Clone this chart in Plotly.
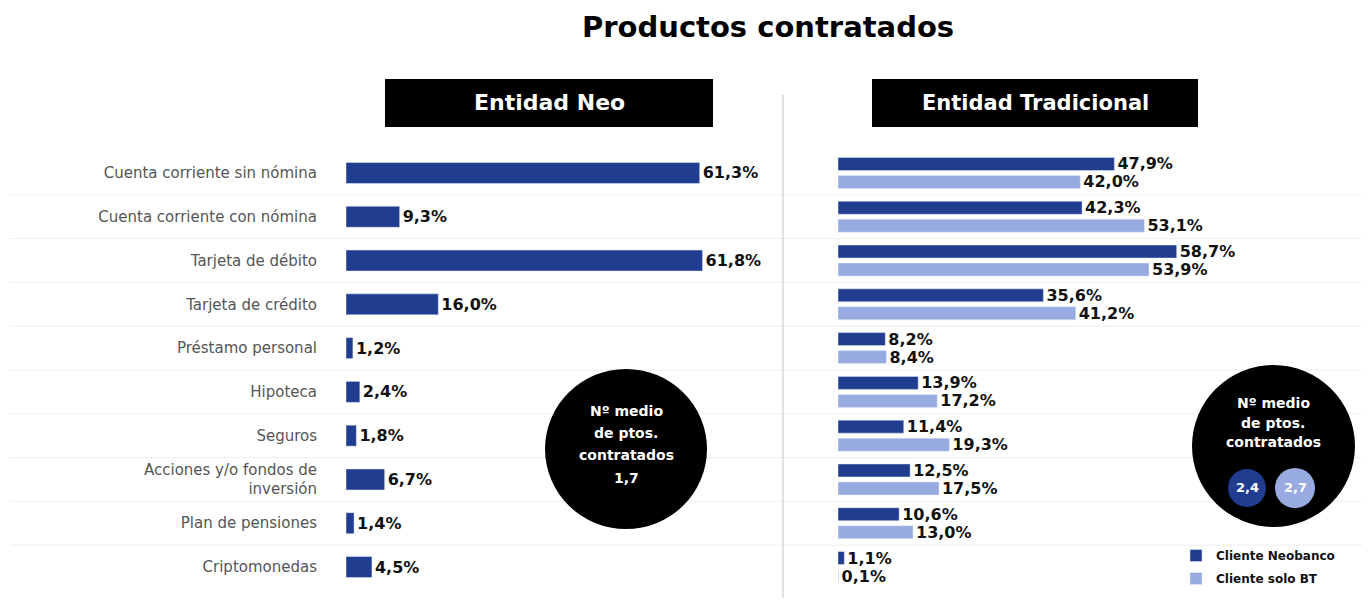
import plotly.graph_objects as go

categories = [
    "Cuenta corriente sin nómina",
    "Cuenta corriente con nómina",
    "Tarjeta de débito",
    "Tarjeta de crédito",
    "Préstamo personal",
    "Hipoteca",
    "Seguros",
    "Acciones y/o fondos de<br>inversión",
    "Plan de pensiones",
    "Criptomonedas",
]
neo_values = [61.3, 9.3, 61.8, 16.0, 1.2, 2.4, 1.8, 6.7, 1.4, 4.5]
trad_neobanco = [47.9, 42.3, 58.7, 35.6, 8.2, 13.9, 11.4, 12.5, 10.6, 1.1]
trad_solo_bt = [42.0, 53.1, 53.9, 41.2, 8.4, 17.2, 19.3, 17.5, 13.0, 0.1]
series_names = ["Cliente Neobanco", "Cliente solo BT"]
panel_titles = ["Entidad Neo", "Entidad Tradicional"]
circle_lines = ["Nº medio", "de ptos.", "contratados"]
avg_neo = "1,7"
avg_trad = ["2,4", "2,7"]

W, H = 1368, 601
DARK = "#213d8f"
LIGHT = "#97abe1"
BOLD = "DejaVu Sans"
LIGHTFONT = "DejaVu Sans"


def fmt(v):
    return f"{v:.1f}".replace(".", ",") + "%"


def px(x):
    return x / W


def py(y):
    return 1 - y / H


label_font = dict(family=BOLD, size=16, color="#111111", weight="bold")

fig = go.Figure()

fig.add_trace(go.Bar(
    y=categories, x=neo_values, orientation="h",
    marker_color=DARK, width=0.48,
    text=[fmt(v) for v in neo_values], textposition="outside",
    constraintext="none", cliponaxis=False, textfont=label_font,
    xaxis="x", yaxis="y", showlegend=False, hoverinfo="skip",
))
fig.add_trace(go.Bar(
    y=categories, x=trad_neobanco, orientation="h", name=series_names[0],
    legendgroup="a",
    marker_color=DARK, width=0.297, offset=-0.354,
    text=[fmt(v) for v in trad_neobanco], textposition="outside",
    constraintext="none", cliponaxis=False, textfont=label_font,
    xaxis="x2", yaxis="y2",
))
fig.add_trace(go.Bar(
    y=categories, x=trad_solo_bt, orientation="h", name=series_names[1],
    legendgroup="b",
    marker_color=LIGHT, width=0.297, offset=0.057,
    text=[fmt(v) for v in trad_solo_bt], textposition="outside",
    constraintext="none", cliponaxis=False, textfont=label_font,
    xaxis="x2", yaxis="y2",
))

y_dom = [py(588.9), py(151.1)]

shapes = []
for i in range(len(categories) - 1):
    shapes.append(dict(type="line", xref="paper", yref="y", x0=px(10), x1=px(1362),
                       y0=i + 0.5, y1=i + 0.5, line=dict(color="#eeeeee", width=1), layer="below"))
shapes.append(dict(type="line", xref="paper", yref="paper", x0=px(783), x1=px(783),
                   y0=py(598), y1=py(95), line=dict(color="#c4c4c4", width=1)))
shapes.append(dict(type="rect", xref="paper", yref="paper", x0=px(385), x1=px(713),
                   y0=py(127), y1=py(79), fillcolor="black", line=dict(width=0)))
shapes.append(dict(type="rect", xref="paper", yref="paper", x0=px(872), x1=px(1198),
                   y0=py(127), y1=py(79), fillcolor="black", line=dict(width=0)))
shapes.append(dict(type="circle", xref="paper", yref="paper", x0=px(545), x1=px(707),
                   y0=py(529), y1=py(369), fillcolor="black", line=dict(width=0)))
shapes.append(dict(type="circle", xref="paper", yref="paper", x0=px(1192), x1=px(1355),
                   y0=py(527), y1=py(365), fillcolor="black", line=dict(width=0)))
shapes.append(dict(type="circle", xref="paper", yref="paper", x0=px(1228), x1=px(1266),
                   y0=py(507), y1=py(469), fillcolor=DARK, line=dict(width=0)))
shapes.append(dict(type="circle", xref="paper", yref="paper", x0=px(1275), x1=px(1315),
                   y0=py(508), y1=py(468), fillcolor=LIGHT, line=dict(width=0)))


def note(text, x, y, size, color="white", weight="bold", family=BOLD):
    return dict(text=text, x=px(x), y=py(y), xref="paper", yref="paper", showarrow=False,
                xanchor="center", yanchor="middle",
                font=dict(family=family, size=size, color=color, weight=weight))


ann = [
    note("Productos contratados", 768, 27, 29, color="black"),
    note(panel_titles[0], 549, 103, 22),
    note(panel_titles[1], 1035, 103, 21),
]
for j, line in enumerate(circle_lines):
    ann.append(note(line, 626, 411 + 22 * j, 14))
    ann.append(note(line, 1273, 403 + 19.5 * j, 14))
ann.append(note(avg_neo, 626, 478, 14))
ann.append(note(avg_trad[0], 1247, 488, 13))
ann.append(note(avg_trad[1], 1295, 488, 13))

fig.update_layout(
    width=W, height=H,
    margin=dict(l=0, r=0, t=0, b=0),
    paper_bgcolor="white", plot_bgcolor="rgba(0,0,0,0)",
    barmode="overlay",
    font=dict(family=BOLD),
    xaxis=dict(domain=[px(346), px(783)], range=[0, 437 / 5.77], visible=False),
    xaxis2=dict(domain=[px(838), 1.0], range=[0, 530 / 5.77], visible=False),
    yaxis=dict(domain=y_dom, anchor="x", type="category", categoryorder="array",
               categoryarray=categories, autorange="reversed", showgrid=False, zeroline=False,
               showline=False, ticks="", ticklabelstandoff=28,
               tickfont=dict(family=LIGHTFONT, size=15, color="#555555")),
    yaxis2=dict(domain=y_dom, anchor="x2", matches="y", showticklabels=False, showgrid=False,
                zeroline=False, showline=False, ticks=""),
    shapes=shapes,
    annotations=ann,
    legend=dict(x=px(1176), y=py(541), xanchor="left", yanchor="top",
                font=dict(family=BOLD, size=12, color="#111111", weight="bold"),
                bgcolor="rgba(0,0,0,0)", itemwidth=30, tracegroupgap=4),
    showlegend=True,
)

fig.write_html("out.html", config={"displayModeBar": False},
               post_script="document.body.style.margin='0px';")
